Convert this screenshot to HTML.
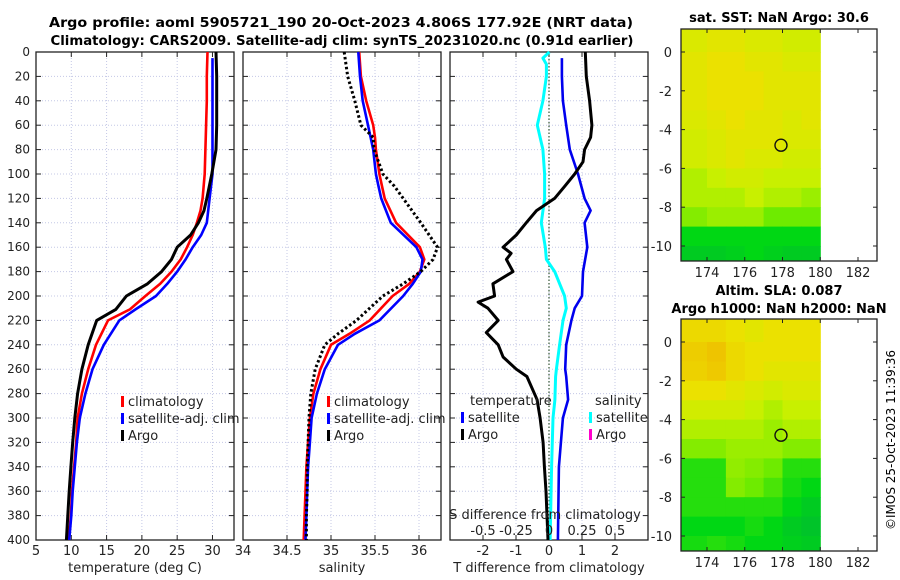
<!DOCTYPE html>
<html><head><meta charset="utf-8"><style>
html,body{margin:0;padding:0;background:#fff;}
svg{display:block;font-family:"DejaVu Sans","Liberation Sans",sans-serif;}
</style></head><body>
<svg id="fig" width="900" height="580" viewBox="0 0 900 580" xmlns="http://www.w3.org/2000/svg">
<text x="341" y="27" font-size="13.5" font-weight="bold" text-anchor="middle" textLength="584" lengthAdjust="spacingAndGlyphs">Argo profile: aoml 5905721_190 20-Oct-2023 4.806S 177.92E (NRT data)</text>
<text x="342" y="45" font-size="13.5" font-weight="bold" text-anchor="middle" textLength="583" lengthAdjust="spacingAndGlyphs">Climatology: CARS2009. Satellite-adj clim: synTS_20231020.nc (0.91d earlier)</text>
<text x="779" y="22" font-size="13" font-weight="bold" text-anchor="middle">sat. SST: NaN Argo: 30.6</text>
<text x="779" y="295" font-size="13" font-weight="bold" text-anchor="middle">Altim. SLA: 0.087</text>
<text x="779" y="313" font-size="13" font-weight="bold" text-anchor="middle">Argo h1000: NaN h2000: NaN</text>
<text transform="translate(895,440) rotate(-90)" font-size="12" text-anchor="middle">©IMOS 25-Oct-2023 11:39:36</text>
<g id="layer"></g>
</svg>
<script>
// ---------- data ----------
const depthTicks = [0,20,40,60,80,100,120,140,160,180,200,220,240,260,280,300,320,340,360,380,400];
const depthT = [0,20,40,60,80,100,120,130,140,150,160,170,180,190,200,211,220,240,260,280,300,320,340,360,380,400];
const argoTemp = [30.5,30.6,30.6,30.6,30.5,29.9,29.2,28.8,28.0,26.9,25.0,24.2,22.8,20.8,17.8,16.3,13.6,12.4,11.5,10.9,10.5,10.2,9.95,9.7,9.5,9.3];
const climTemp = [29.3,29.2,29.2,29.1,29.0,28.9,28.6,28.3,27.8,27.2,26.4,25.5,24.2,22.6,20.5,18.3,15.2,13.5,12.4,11.5,10.9,10.7,10.4,10.1,9.95,9.6];
const depthSat = [5,20,40,60,80,100,120,130,140,150,160,170,180,190,200,211,220,240,260,280,300,320,340,360,380,400];
const satTemp = [30.0,30.0,30.0,30.0,30.0,30.0,29.6,29.4,29.2,28.4,27.2,26.2,25.0,23.6,22.0,19.1,16.8,14.6,13.0,12.0,11.2,10.8,10.5,10.2,10.0,9.7];

const depthS = [0,20,40,60,70,80,100,110,120,140,160,170,180,190,200,220,231,240,260,280,300,320,340,360,380,400];
const argoSal = [35.15,35.19,35.27,35.34,35.48,35.49,35.59,35.72,35.82,36.02,36.21,36.16,36.02,35.82,35.59,35.29,35.08,34.93,34.82,34.77,34.75,34.74,34.73,34.73,34.72,34.72];
const climSal = [35.32,35.34,35.40,35.48,35.50,35.51,35.55,35.58,35.61,35.74,36.01,36.06,36.01,35.89,35.70,35.44,35.21,35.00,34.88,34.80,34.76,34.74,34.72,34.71,34.70,34.69];
const satSal = [35.31,35.33,35.36,35.42,35.45,35.48,35.51,35.54,35.57,35.68,35.97,36.04,36.02,35.93,35.82,35.55,35.27,35.08,34.93,34.84,34.78,34.76,34.74,34.73,34.72,34.71];

const depthDA = [0,20,40,60,70,80,90,100,110,120,130,140,150,160,165,170,180,190,200,205,210,220,230,240,250,260,266,285,300,320,340,360,380,400];
const argoTdiff = [1.10,1.13,1.23,1.30,1.26,1.08,1.03,0.78,0.48,0.17,-0.38,-0.69,-0.99,-1.39,-1.15,-1.29,-1.09,-1.70,-1.65,-2.15,-1.85,-1.54,-1.90,-1.54,-1.39,-0.99,-0.67,-0.36,-0.27,-0.18,-0.14,-0.09,-0.06,-0.03];
const depthDS = [5,20,40,60,80,100,120,130,140,160,180,200,210,220,240,260,266,285,300,340,400];
const satTdiff = [0.39,0.39,0.42,0.52,0.63,0.88,1.08,1.26,1.08,1.16,1.03,1.00,0.78,0.68,0.52,0.49,0.52,0.58,0.42,0.30,0.27];
const depthDC = [0,5,10,20,40,60,80,100,120,140,160,170,180,200,210,220,240,260,266,285,300,340,400];
const satSdiff = [0.003,-0.046,-0.02,-0.02,-0.046,-0.089,-0.046,-0.033,-0.033,-0.058,-0.028,-0.02,0.043,0.118,0.131,0.106,0.08,0.056,0.05,0.045,0.03,0.02,0.008];

const tempTicks = [5,10,15,20,25,30];
const salTicks = [34,34.5,35,35.5,36];
const salTickLabels = ["34","34.5","35","35.5","36"];
const tdiffTicks = [-2,-1,0,1,2];
const sdiffTicks = [-0.5,-0.25,0,0.25,0.5];
const sdiffLabels = ["-0.5","-0.25","0","0.25","0.5"];

const lonTicks = [174,176,178,180,182];
const latTicks = [0,-2,-4,-6,-8,-10];
const mapLonEdges = [172.6,174,175,176,177,178,179,180];
const mapLatEdges = [1.2,0,-1,-2,-3,-4,-5,-6,-7,-8,-9,-10,-10.8];
const sstGrid = [
 [0.40,0.35,0.35,0.40,0.40,0.45,0.45],
 [0.35,0.30,0.30,0.35,0.35,0.40,0.40],
 [0.35,0.30,0.30,0.30,0.35,0.35,0.35],
 [0.35,0.30,0.30,0.30,0.35,0.35,0.35],
 [0.40,0.35,0.30,0.35,0.35,0.40,0.35],
 [0.45,0.40,0.35,0.35,0.35,0.40,0.40],
 [0.45,0.40,0.35,0.40,0.40,0.45,0.45],
 [0.55,0.50,0.45,0.45,0.50,0.50,0.50],
 [0.55,0.55,0.55,0.50,0.55,0.55,0.60],
 [0.65,0.60,0.60,0.60,0.70,0.70,0.70],
 [0.85,0.85,0.85,0.85,0.85,0.85,0.85],
 [0.90,0.90,0.88,0.85,0.88,0.90,0.90]];
const slaGrid = [
 [0.25,0.25,0.30,0.35,0.30,0.30,0.30],
 [0.18,0.12,0.25,0.30,0.30,0.30,0.30],
 [0.20,0.15,0.25,0.30,0.35,0.35,0.35],
 [0.30,0.30,0.35,0.40,0.45,0.40,0.40],
 [0.45,0.45,0.45,0.50,0.55,0.50,0.50],
 [0.55,0.55,0.55,0.55,0.60,0.55,0.55],
 [0.65,0.65,0.60,0.60,0.60,0.65,0.65],
 [0.80,0.80,0.62,0.65,0.70,0.80,0.80],
 [0.80,0.80,0.65,0.70,0.75,0.82,0.85],
 [0.80,0.80,0.80,0.80,0.80,0.85,0.90],
 [0.85,0.85,0.85,0.82,0.85,0.90,0.93],
 [0.82,0.80,0.82,0.85,0.85,0.88,0.90]];
const argoLon = [177.92];
const argoLat = [-4.806];

// ---------- helpers ----------
const NS = "http://www.w3.org/2000/svg";
const layer = document.getElementById('layer');
function mk(tag, attrs, parent){
  const e = document.createElementNS(NS, tag);
  for (const k in attrs) e.setAttribute(k, attrs[k]);
  (parent||layer).appendChild(e);
  return e;
}
const Y0 = 52, Y1 = 540;
const yD = d => Y0 + d*(Y1-Y0)/400;
function lin(d0,d1,r0,r1){ return v => r0 + (v-d0)*(r1-r0)/(d1-d0); }

function panel(name, x0, x1, xs, xticks){
  const g = mk('g', {});
  
  
  depthTicks.forEach(d => {
    if (d===0||d===400) return;
    const l = mk('line',{x1:x0,x2:x1,y1:yD(d),y2:yD(d),stroke:'#c4c8e6','stroke-width':1,'stroke-dasharray':'1,2'},g);
    
    
    mk('line',{x1:x0,x2:x0+5,y1:yD(d),y2:yD(d),stroke:'#222'},g);
    mk('line',{x1:x1-5,x2:x1,y1:yD(d),y2:yD(d),stroke:'#222'},g);
  });
  xticks.forEach(v => {
    const x = xs(v);
    if (x<=x0+1||x>=x1-1) return;
    const l = mk('line',{x1:x,x2:x,y1:Y0,y2:Y1,stroke:'#c4c8e6','stroke-width':1,'stroke-dasharray':'1,2'},g);
    
    
    mk('line',{x1:x,x2:x,y1:Y1-5,y2:Y1,stroke:'#222'},g);
    mk('line',{x1:x,x2:x,y1:Y0,y2:Y0+5,stroke:'#222'},g);
  });
  const f = mk('rect',{x:x0,y:Y0,width:x1-x0,height:Y1-Y0,fill:'none',stroke:'#222','stroke-width':1.3},g);
  
  
  return g;
}
function series(g, name, xs, vals, depths, color, w, dash){
  const pts = vals.map((v,i)=> xs(v).toFixed(1)+','+yD(depths[i]).toFixed(1)).join(' ');
  const p = mk('polyline',{points:pts,fill:'none',stroke:color,'stroke-width':w,'stroke-linejoin':'round'},g);
  if (dash) p.setAttribute('stroke-dasharray', dash);
  
  
}
function text(g, name, x, y, s, opts){
  const t = mk('text', Object.assign({x:x,y:y,'font-size':12,fill:'#222'}, opts||{}), g);
  t.textContent = s;
  
  
  return t;
}
function legend(g, x, y, entries){
  entries.forEach((e,i)=>{
    const yy = y + i*17;
    const m = mk('rect',{x:x,y:yy-10,width:3,height:11,fill:e[1]},g);
    
    
    text(g,'legend-entry',x+7,yy,e[0],{'font-size':13});
  });
}

// ---------- panel 1: temperature ----------
const xT = lin(5, 33.05, 36, 234);
const p1 = panel('temperature-panel', 36, 234, xT, tempTicks);
series(p1,'climatology-temp-line',xT,climTemp,depthT,'#ff0000',2.6);
series(p1,'satellite-temp-line',xT,satTemp,depthSat,'#0000ff',2.6);
series(p1,'argo-temp-line',xT,argoTemp,depthT,'#000000',3);
depthTicks.forEach(d => text(p1,'y-tick-label',30,yD(d)+4,String(d),{'text-anchor':'end'}));
tempTicks.forEach(v => text(p1,'x-tick-label',xT(v),555,String(v),{'text-anchor':'middle','font-size':13}));
text(p1,'x-axis-title',135,572,'temperature (deg C)',{'text-anchor':'middle','font-size':13});
legend(p1,121,406,[['climatology','#ff0000'],['satellite-adj. clim','#0000ff'],['Argo','#000000']]);

// ---------- panel 2: salinity ----------
const xS = lin(34, 36.25, 243, 441);
const p2 = panel('salinity-panel', 243, 441, xS, salTicks);
series(p2,'climatology-sal-line',xS,climSal,depthS,'#ff0000',2.6);
series(p2,'satellite-sal-line',xS,satSal,depthS,'#0000ff',2.6);
series(p2,'argo-sal-line',xS,argoSal,depthS,'#000000',3,'2.5,2.5');
salTicks.forEach((v,i) => text(p2,'x-tick-label',xS(v),555,salTickLabels[i],{'text-anchor':'middle','font-size':13}));
text(p2,'x-axis-title',342,572,'salinity',{'text-anchor':'middle','font-size':13});
legend(p2,327,406,[['climatology','#ff0000'],['satellite-adj. clim','#0000ff'],['Argo','#000000']]);

// ---------- panel 3: differences ----------
const xD = lin(-3, 3, 450, 648);
const xSD = lin(-0.75, 0.75, 450, 648);
const p3 = panel('difference-panel', 450, 648, xD, tdiffTicks);
const zl = mk('line',{x1:xD(0),x2:xD(0),y1:Y0,y2:Y1,stroke:'#335533','stroke-width':1.2,'stroke-dasharray':'1.5,2'},p3);


series(p3,'satellite-sdiff-line',xSD,satSdiff,depthDC,'#00ffff',3);
series(p3,'satellite-tdiff-line',xD,satTdiff,depthDS,'#0000ee',2.6);
series(p3,'argo-tdiff-line',xD,argoTdiff,depthDA,'#000000',3);
tdiffTicks.forEach(v => text(p3,'x-tick-label',xD(v),555,String(v),{'text-anchor':'middle','font-size':13}));
text(p3,'x-axis-title',549,572,'T difference from climatology',{'text-anchor':'middle','font-size':13});
text(p3,'s-axis-title',545,519,'S difference from climatology',{'text-anchor':'middle','font-size':13});
sdiffTicks.forEach((v,i) => text(p3,'s-tick-label',xSD(v),535,sdiffLabels[i],{'text-anchor':'middle','font-size':13}));
text(p3,'legend-title-temperature',470,405,'temperature',{'font-size':13});
text(p3,'legend-title-salinity',595,405,'salinity',{'font-size':13});
legend(p3,461,422,[['satellite','#0000ff'],['Argo','#000000']]);
legend(p3,589,422,[['satellite','#00ffff'],['Argo','#ff00cc']]);

// ---------- maps ----------
function cmap(v){
  const stops = [[0,[240,176,0]],[0.3,[235,225,0]],[0.5,[200,240,0]],[0.7,[110,235,0]],[0.85,[0,215,20]],[1,[0,180,60]]];
  for (let i=1;i<stops.length;i++){
    if (v<=stops[i][0]){
      const a=stops[i-1], b=stops[i], t=(v-a[0])/(b[0]-a[0]);
      return 'rgb('+a[1].map((c,k)=>Math.round(c+(b[1][k]-c)*t)).join(',')+')';
    }
  }
  return 'rgb(0,180,60)';
}
function map(name, top, bottom, lat0y, grid){
  const g = mk('g',{});
  
  
  const xL = lin(174, 182, 707, 858);
  const yL = lin(0, -10, lat0y, lat0y+194);
  grid.forEach((row,r)=>row.forEach((v,c)=>{
    const x0 = xL(mapLonEdges[c]), x1 = xL(mapLonEdges[c+1]);
    const y0 = Math.max(top, yL(mapLatEdges[r])), y1 = Math.min(bottom, yL(mapLatEdges[r+1]));
    const cell = mk('rect',{x:x0.toFixed(1),y:y0.toFixed(1),width:(x1-x0+0.5).toFixed(1),height:(y1-y0+0.5).toFixed(1),fill:cmap(v)},g);
    
    
  }));
  argoLon.forEach((lo,i)=>{
    const c = mk('circle',{cx:xL(lo),cy:yL(argoLat[i]),r:6,fill:'none',stroke:'#111','stroke-width':1.4},g);
    
    
  });
  lonTicks.forEach(v=>{
    mk('line',{x1:xL(v),x2:xL(v),y1:bottom-4,y2:bottom,stroke:'#222'},g);
    mk('line',{x1:xL(v),x2:xL(v),y1:top,y2:top+4,stroke:'#222'},g);
    text(g,'lon-tick-label',xL(v),bottom+16,String(v),{'text-anchor':'middle','font-size':13});
  });
  latTicks.forEach(v=>{
    mk('line',{x1:681,x2:685,y1:yL(v),y2:yL(v),stroke:'#222'},g);
    mk('line',{x1:873,x2:877,y1:yL(v),y2:yL(v),stroke:'#222'},g);
    text(g,'lat-tick-label',672,yL(v)+5,String(v),{'text-anchor':'end','font-size':13});
  });
  const f = mk('rect',{x:681,y:top,width:196,height:bottom-top,fill:'none',stroke:'#222','stroke-width':1.3},g);
  
  
}
map('sst-map', 29, 261, 52, sstGrid);
map('sla-map', 319, 551, 342, slaGrid);
</script>
</body></html>
